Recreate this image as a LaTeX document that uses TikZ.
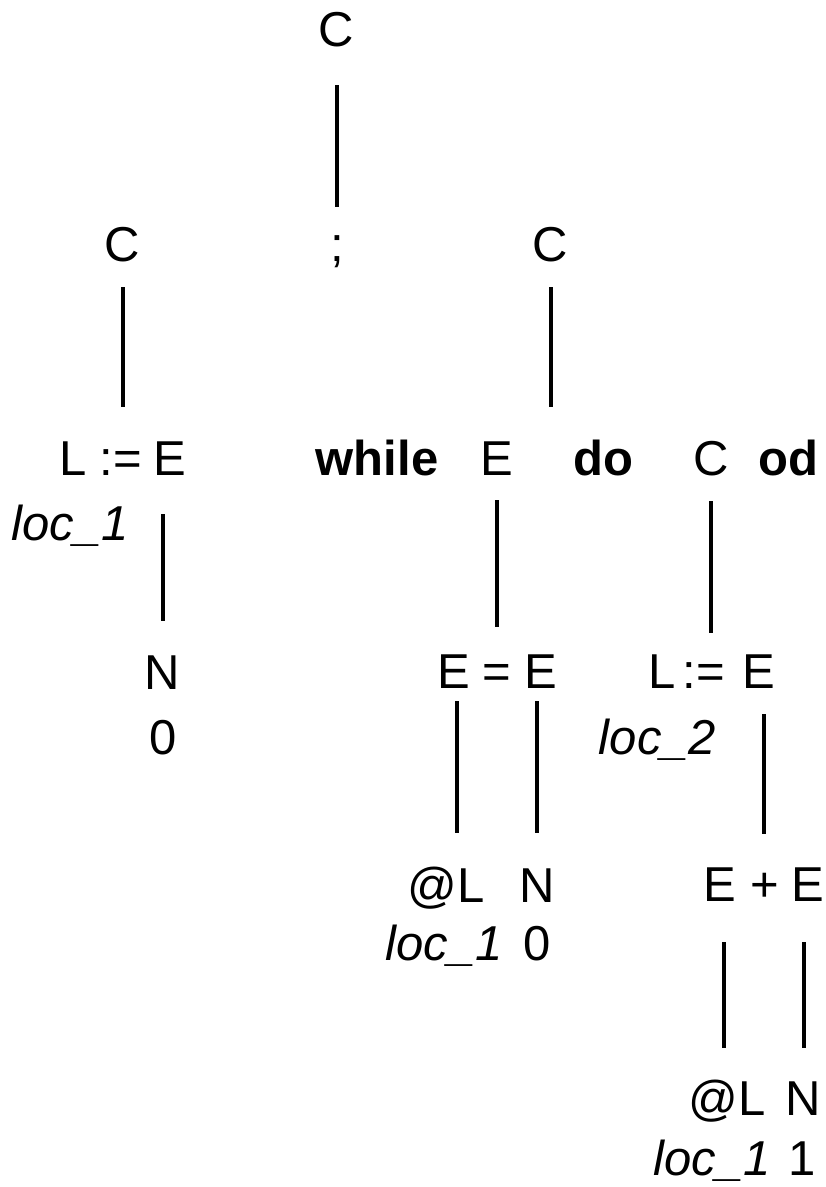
\documentclass[tikz,border=0pt]{standalone}
\usepackage{fontspec}
\setmainfont{Liberation Sans}
\begin{document}
\begin{tikzpicture}[x=1pt,y=-1pt,
  sym/.style={inner sep=0pt, anchor=base, font=\fontsize{49}{58}\selectfont},
  kw/.style={sym, font=\fontsize{49}{58}\selectfont\bfseries},
  loc/.style={sym, font=\fontsize{49}{58}\selectfont\itshape},
  edge/.style={line width=4.6pt}]
\useasboundingbox (0,0) rectangle (826,1187);

% level 0
\node[sym] (r) at (336,46) {C};

% level 1: C ; C
\node[sym] (c1)   at (122.5,261) {C};
\node[sym] (semi) at (337,261) {;};
\node[sym] (c2)   at (550.5,261) {C};

% level 2, left: L := E
\node[sym] (aL)  at (73.5,475) {L};
\node[sym] (aAs) at (120.5,475) {:=};
\node[sym] (aE)  at (170,475) {E};
\node[loc] (aLoc) at (70,540) {loc\_1};

% level 2, right: while E do C od
\node[kw]  (wWh) at (377,475) {while};
\node[sym] (wE)  at (497,475) {E};
\node[kw]  (wDo) at (603.5,475) {do};
\node[sym] (wC)  at (711,475) {C};
\node[kw]  (wOd) at (788.5,475) {od};

% level 3
\node[sym] (aN) at (162.5,689) {N};
\node[sym] (a0) at (163.5,754) {0};

\node[sym] (qE1) at (454,688) {E};
\node[sym] (qEq) at (497,688) {=};
\node[sym] (qE2) at (540.5,688) {E};

\node[sym] (bL)  at (662,688) {L};
\node[sym] (bAs) at (704,688) {:=};
\node[sym] (bE)  at (758.5,688) {E};
\node[loc] (bLoc) at (657.5,754) {loc\_2};

% level 4
\node[sym] (qAt) at (446,902) {@L};
\node[sym] (qN)  at (537.5,902) {N};
\node[loc] (qLoc) at (444,960) {loc\_1};
\node[sym] (q0)  at (537,960) {0};

\node[sym] (pE1) at (720,901) {E};
\node[sym] (pPl) at (764.5,901) {+};
\node[sym] (pE2) at (808,901) {E};

% level 5
\node[sym] (pAt) at (727,1115) {@L};
\node[sym] (pN)  at (803.5,1115) {N};
\node[loc] (pLoc) at (712,1175) {loc\_1};
\node[sym] (p1)  at (802.5,1175) {1};

% tree edges
\draw[edge, shorten >=54pt] (r.base)   ++(1,39)    coordinate (e1)  -- (e1 |- semi.base);
\draw[edge, shorten >=68pt] (c1.base)  ++(0.5,26)  coordinate (e2)  -- (e2 |- aAs.base);
\draw[edge, shorten >=68pt] (c2.base)  ++(0.5,26)  coordinate (e3)  -- (e3 |- wE.base);
\draw[edge, shorten >=68pt] (aE.base)  ++(-7,39)   coordinate (e4)  -- (e4 |- aN.base);
\draw[edge, shorten >=61pt] (wE.base)  ++(0,25)    coordinate (e5)  -- (e5 |- qEq.base);
\draw[edge, shorten >=55pt] (wC.base)  ++(0,26)    coordinate (e6)  -- (e6 |- bAs.base);
\draw[edge, shorten >=69pt] (qE1.base) ++(3,13)    coordinate (e7)  -- (e7 |- qAt.base);
\draw[edge, shorten >=69pt] (qE2.base) ++(-3.5,13) coordinate (e8)  -- (e8 |- qN.base);
\draw[edge, shorten >=67pt] (bE.base)  ++(5.5,26)  coordinate (e9)  -- (e9 |- pPl.base);
\draw[edge, shorten >=67pt] (pE1.base) ++(4,41)    coordinate (e10) -- (e10 |- pAt.base);
\draw[edge, shorten >=67pt] (pE2.base) ++(-4,41)   coordinate (e11) -- (e11 |- pN.base);
\end{tikzpicture}
\end{document}
